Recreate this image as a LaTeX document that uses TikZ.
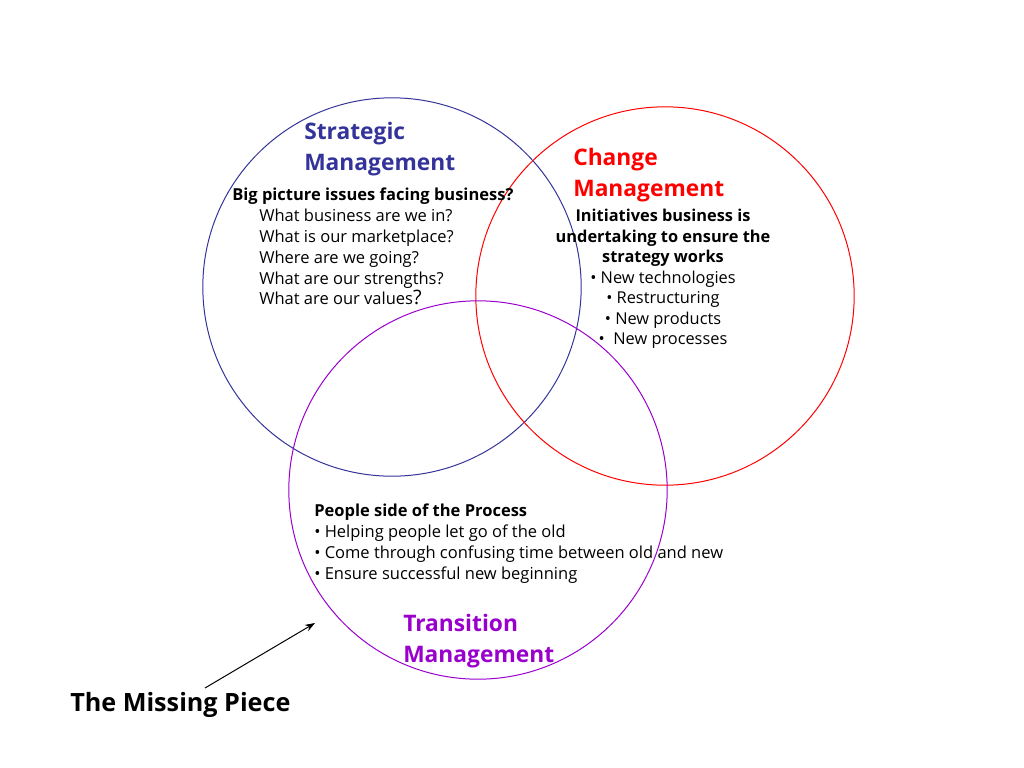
\documentclass[tikz,border=0pt]{standalone}
\usepackage{fontspec}
\setmainfont{Open Sans}
\usetikzlibrary{arrows.meta, positioning}
\definecolor{stratcolor}{RGB}{51,51,153}
\definecolor{changecolor}{RGB}{255,0,0}
\definecolor{transcolor}{RGB}{153,0,204}
\tikzset{
  ring/.style   = {circle, draw, line width=0.7pt, minimum size=266pt, inner sep=0pt},
  title/.style  = {anchor=north west, align=left, inner sep=0pt,
                   font=\fontsize{16}{21.8}\selectfont\bfseries},
  body/.style   = {anchor=north west, align=left, inner sep=0pt,
                   font=\fontsize{11.6}{14.6}\selectfont},
  bodyc/.style  = {anchor=north, align=center, inner sep=0pt,
                   font=\fontsize{11.5}{14.4}\selectfont},
  pointer/.style = {-{Stealth[length=7pt, width=5pt]}, line width=0.7pt},
}

\begin{document}
\begin{tikzpicture}[x=0.703pt, y=-0.703pt]
  \useasboundingbox (0,0) rectangle (1024,768);
  % the three circles
  \node[ring, draw=stratcolor]  (strat)  at (392,287) {};
  \node[ring, draw=changecolor] (change) at (665,296) {};
  \node[ring, draw=transcolor]  (trans)  at (478,490) {};

  % strategic management
  \node[title, stratcolor] (stitle) at (304,122) {Strategic\\Management};
  \node[body, font=\fontsize{11.6}{14.6}\selectfont\bfseries] (sq) at (232,188)
    {Big picture issues facing business?};
  \node[body] (slist) at (259,209)
    {What business are we in?\\What is our marketplace?\\Where are we going?\\
     What are our strengths?\\What are our values{\fontsize{14}{14.6}\selectfont ?}};

  % change management
  \node[title, changecolor] (ctitle) at (573,148) {Change\\Management};
  \node[bodyc] (cbody) at (663,209)
    {\textbf{Initiatives business is}\\\textbf{undertaking to ensure the}\\
     \textbf{strategy works}\\{\textbullet} New technologies\\{\textbullet} Restructuring\\
     {\textbullet} New products\\{\textbullet}\ \ New processes};

  % transition management
  \node[body] (tbody) at (314,504)
    {\textbf{People side of the Process}\\{\textbullet} Helping people let go of the old\\
     {\textbullet} Come through confusing time between old and new\\
     {\textbullet} Ensure successful new beginning};
  \node[title, transcolor] (ttitle) at (403,614) {Transition\\Management};

  % the missing piece
  \node[anchor=west, inner sep=0pt, font=\fontsize{17.7}{20}\selectfont\bfseries]
    (missing) at (70,705) {The Missing Piece};
  \coordinate (tail) at (205,688);
  \coordinate (gap) at (315,623);
  \draw[pointer] (tail) -- (gap);
\end{tikzpicture}
\end{document}
